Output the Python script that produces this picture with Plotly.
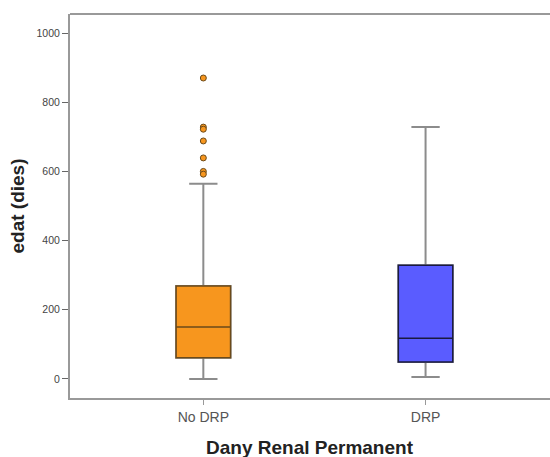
import plotly.graph_objects as go

categories = ["No DRP", "DRP"]
q1 = [61, 49]
median = [150, 118]
q3 = [269, 329]
lower_whisker = [0, 6]
upper_whisker = [564, 728]
outliers_nodrp = [870, 728, 722, 688, 639, 600, 592]
fill_colors = ["#F7961E", "#5A5CFF"]
edge_colors = ["#6B4A1A", "#1A1A40"]

fig = go.Figure()
for i, c in enumerate(categories):
    # whiskers (gray)
    fig.add_trace(go.Box(
        x=[c], q1=[q1[i]], median=[median[i]], q3=[q3[i]],
        lowerfence=[lower_whisker[i]], upperfence=[upper_whisker[i]],
        fillcolor="rgba(0,0,0,0)", line=dict(color="#8C8C8C", width=2),
        width=0.245, whiskerwidth=0.52, boxpoints=False, showlegend=False,
        hoverinfo="skip"))
    # box body
    fig.add_trace(go.Box(
        x=[c], q1=[q1[i]], median=[median[i]], q3=[q3[i]],
        lowerfence=[q1[i]], upperfence=[q3[i]],
        fillcolor=fill_colors[i], line=dict(color=edge_colors[i], width=1.5),
        width=0.245, whiskerwidth=0, boxpoints=False, showlegend=False))

fig.add_trace(go.Scatter(
    x=[categories[0]] * len(outliers_nodrp), y=outliers_nodrp, mode="markers",
    marker=dict(color="#F7961E", size=6, line=dict(color="#6B4A1A", width=1)),
    showlegend=False))

fig.update_layout(
    width=550, height=457,
    margin=dict(l=70, r=0, t=14, b=59, autoexpand=False),
    paper_bgcolor="white", plot_bgcolor="white",
    boxmode="overlay",
    font=dict(family="Liberation Sans, Arial, sans-serif"),
)
fig.update_xaxes(
    type="category", categoryorder="array", categoryarray=categories,
    range=[-0.6, 1.56], showline=True, linecolor="#999999", linewidth=2,
    ticks="outside", ticklen=5, tickcolor="#999999", showgrid=False,
    zeroline=False, tickfont=dict(size=14, color="#555555"), automargin=False)
fig.update_yaxes(
    range=[-55, 1055], tickvals=[0, 200, 400, 600, 800, 1000],
    showline=True, linecolor="#999999", linewidth=2, ticks="outside", ticklen=6,
    tickcolor="#666666", showgrid=False, zeroline=False,
    tickfont=dict(size=10.5, color="#444444"), automargin=False)
fig.add_shape(type="line", xref="paper", yref="paper", x0=0, x1=1, y0=1, y1=1,
              line=dict(color="#999999", width=2))
fig.add_annotation(text="<b>edat (dies)</b>", xref="paper", yref="paper",
                   x=0, y=0.5, xshift=-66, textangle=-90, showarrow=False,
                   font=dict(size=19, color="#222222"))
fig.add_annotation(text="<b>Dany Renal Permanent</b>", xref="paper", yref="paper",
                   x=0.5, y=0, yshift=-62, showarrow=False,
                   font=dict(size=19, color="#222222"))

fig.write_html("out.html", config={"displayModeBar": False},
               post_script="document.body.style.margin='0';document.body.style.overflow='hidden';")
